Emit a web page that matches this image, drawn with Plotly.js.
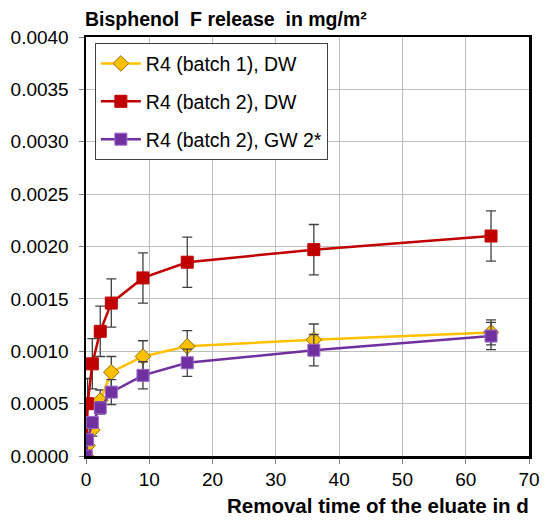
<!DOCTYPE html>
<html>
<head>
<meta charset="utf-8">
<script src="https://cdn.plot.ly/plotly-3.0.1.min.js"></script>
<style>html,body{margin:0;padding:0;background:#fff;}#chart{width:550px;height:520px;}</style>
</head>
<body>
<div id="chart"></div>
<script>
const days = [0, 0.25, 1, 2.25, 4, 9, 16, 36, 64];
const batch1DW = [0, 0.0001, 0.00025, 0.00053, 0.0008, 0.00095, 0.001047, 0.00111, 0.00118];
const batch1DWErr = [0, 0.00003, 0.00006, 0.0001, 0.00015, 0.00015, 0.00015, 0.00015, 0.00012];
const batch2DW = [0, 0.0005, 0.00088, 0.00119, 0.00146, 0.0017, 0.00185, 0.00197, 0.0021];
const batch2DWErr = [0, 0.00024, 0.00024, 0.00024, 0.00023, 0.00024, 0.00024, 0.00024, 0.00024];
const batch2GW = [0, 0.000155, 0.00032, 0.00046, 0.00061, 0.00077, 0.00089, 0.00101, 0.001145];
const batch2GWErr = [0, 0.00002, 0.00003, 0.00006, 0.00012, 0.00013, 0.00013, 0.00015, 0.00013];
const names = ['R4 (batch 1), DW', 'R4 (batch 2), DW', 'R4 (batch 2), GW 2*'];
const xTicks = [0, 10, 20, 30, 40, 50, 60, 70];
const yTicks = [0, 0.0005, 0.001, 0.0015, 0.002, 0.0025, 0.003, 0.0035, 0.004];

const errStyle = (arr) => ({type: 'data', array: arr, visible: true, color: '#404040', thickness: 1.3, width: 5});

const traces = [
  {x: days, y: batch1DW, name: names[0], legendgroup: 'a', mode: 'lines+markers',
   line: {color: '#FFC000', width: 2.5},
   marker: {symbol: 'diamond', size: 12, color: '#FFC000', line: {color: '#8C6A00', width: 1}},
   error_y: errStyle(batch1DWErr)},
  {x: days, y: batch2DW, name: names[1], legendgroup: 'b', mode: 'lines+markers',
   line: {color: '#C00000', width: 2.5},
   marker: {symbol: 'square', size: 12, color: '#C00000', line: {color: '#C00000', width: 1}},
   error_y: errStyle(batch2DWErr)},
  {x: days, y: batch2GW, name: names[2], legendgroup: 'c', mode: 'lines+markers',
   line: {color: '#7030A0', width: 2.5},
   marker: {symbol: 'square', size: 12, color: '#7030A0', line: {color: '#9966CC', width: 1}},
   error_y: errStyle(batch2GWErr)}
];

const layout = {
  width: 550, height: 520,
  margin: {l: 86, r: 21, t: 37, b: 64},
  paper_bgcolor: '#fff', plot_bgcolor: '#fff',
  font: {family: 'Liberation Sans, Arial, sans-serif', size: 19, color: '#000'},
  showlegend: true,
  legend: {x: 0.02, y: 0.985, xanchor: 'left', yanchor: 'top',
           bgcolor: '#fff', bordercolor: '#404040', borderwidth: 1,
           itemwidth: 40,
           font: {size: 19.5, color: '#000'}, tracegroupgap: 9.5, traceorder: 'grouped'},
  xaxis: {range: [0, 70], tickvals: xTicks, ticktext: xTicks.map(String),
          showgrid: true, gridcolor: '#BEBEBE', gridwidth: 1,
          showline: true, linecolor: '#000', linewidth: 2.5, mirror: true,
          ticks: 'outside', ticklen: 5, tickcolor: '#808080', zeroline: false,
          ticklabelstandoff: 0,
          tickfont: {size: 19}},
  yaxis: {range: [0, 0.004], tickvals: yTicks, ticktext: yTicks.map(v => v.toFixed(4)),
          showgrid: true, gridcolor: '#BEBEBE', gridwidth: 1,
          showline: true, linecolor: '#000', linewidth: 2.5, mirror: true,
          ticks: 'outside', ticklen: 5, tickcolor: '#808080', zeroline: false,
          ticklabelstandoff: 6,
          tickfont: {size: 19}},
  annotations: [
    {text: '<b>Bisphenol  F release  in mg/m²</b>', xref: 'paper', yref: 'paper',
     x: 0, y: 1, xanchor: 'left', yanchor: 'bottom', yshift: 5, xshift: -3, showarrow: false,
     font: {size: 19.5, color: '#000'}},
    {text: '<b>Removal time of the eluate in d</b>', xref: 'paper', yref: 'paper',
     x: 1, y: 0, xanchor: 'right', yanchor: 'top', yshift: -36, xshift: 2, showarrow: false,
     font: {size: 20.5, color: '#000'}}
  ]
};

Plotly.newPlot('chart', traces, layout, {displayModeBar: false, staticPlot: true});
</script>
</body>
</html>
